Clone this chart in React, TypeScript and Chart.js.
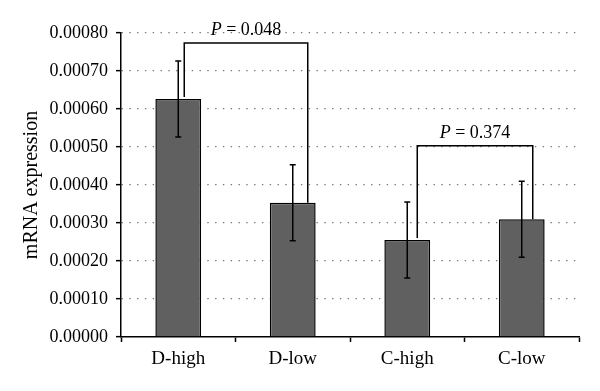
import React, { useEffect, useRef } from "react";
import { Chart, registerables } from "chart.js";

Chart.register(...registerables);

const categories = ["D-high", "D-low", "C-high", "C-low"];
const values = [0.000626, 0.000353, 0.000255, 0.00031];
const errors = [0.0001, 0.0001, 0.0001, 0.0001];
const yTicks = [0, 0.0001, 0.0002, 0.0003, 0.0004, 0.0005, 0.0006, 0.0007, 0.0008];
const bracketFrom = [0, 2];
const bracketTo = [1, 3];
const bracketLevel = [0.000774, 0.000503];
const bracketLabel = ["0.048", "0.374"];

const FONT = "'Liberation Serif', 'Times New Roman', serif";
const legOffsetLeft = [6, 10];
const legOffsetRight = [15, 11];

const overlayPlugin = {
  id: "overlay",
  afterDatasetsDraw(chart: any) {
    const ctx = chart.ctx;
    const meta = chart.getDatasetMeta(0);
    const y = chart.scales.y;
    ctx.save();
    ctx.strokeStyle = "#000";
    ctx.lineWidth = 1.5;
    ctx.setLineDash([]);
    // error bars
    values.forEach((v, i) => {
      const bx = meta.data[i].x;
      const yt = y.getPixelForValue(v + errors[i]);
      const yb = y.getPixelForValue(v - errors[i]);
      ctx.beginPath();
      ctx.moveTo(bx, yt);
      ctx.lineTo(bx, yb);
      ctx.moveTo(bx - 3, yt);
      ctx.lineTo(bx + 3, yt);
      ctx.moveTo(bx - 3, yb);
      ctx.lineTo(bx + 3, yb);
      ctx.stroke();
    });
    // brackets
    bracketFrom.forEach((f, k) => {
      const t = bracketTo[k];
      const x1 = meta.data[f].x + legOffsetLeft[k];
      const x2 = meta.data[t].x + legOffsetRight[k];
      const yl = y.getPixelForValue(bracketLevel[k]);
      const y1 = y.getPixelForValue(values[f]) - 2;
      const y2 = y.getPixelForValue(values[t]);
      ctx.beginPath();
      ctx.moveTo(x1, y1);
      ctx.lineTo(x1, yl);
      ctx.lineTo(x2, yl);
      ctx.lineTo(x2, y2);
      ctx.stroke();
      // label
      const cx = (x1 + x2) / 2;
      const baseY = yl - 8;
      ctx.fillStyle = "#000";
      ctx.textBaseline = "alphabetic";
      ctx.font = `italic 18px ${FONT}`;
      const pW = ctx.measureText("P").width;
      ctx.font = `18px ${FONT}`;
      const rest = " = " + bracketLabel[k];
      const rW = ctx.measureText(rest).width;
      const start = cx - (pW + rW) / 2;
      ctx.font = `italic 18px ${FONT}`;
      ctx.textAlign = "left";
      ctx.fillText("P", start, baseY);
      ctx.font = `18px ${FONT}`;
      ctx.fillText(rest, start + pW, baseY);
    });
    ctx.restore();
  },
};

export default function App() {
  const ref = useRef<HTMLCanvasElement>(null);
  useEffect(() => {
    document.body.style.margin = "0";
    const chart = new Chart(ref.current!, {
      type: "bar",
      data: {
        labels: categories,
        datasets: [
          {
            data: values,
            backgroundColor: "#606060",
            borderColor: "#000",
            borderWidth: 1.5,
            barPercentage: 0.4,
            categoryPercentage: 1,
          },
        ],
      },
      options: {
        animation: false,
        responsive: false,
        events: [],
        layout: { padding: { top: 33, right: 21, left: 0, bottom: 0 } },
        plugins: { legend: { display: false }, tooltip: { enabled: false } },
        scales: {
          x: {
            offset: true,
            afterFit: (s: any) => {
              s.height = 54;
            },
            grid: {
              offset: true,
              drawOnChartArea: false,
              drawTicks: true,
              tickLength: 5,
              tickColor: "#000",
              tickWidth: 1.5,
            },
            border: { display: true, color: "#000", width: 1.5 },
            ticks: { color: "#000", padding: 6, font: { family: FONT, size: 19 } },
          },
          y: {
            min: 0,
            max: 0.0008,
            afterFit: (s: any) => {
              s.width = 121;
            },
            afterBuildTicks: (s: any) => {
              s.ticks = yTicks.map((v) => ({ value: v }));
            },
            grid: {
              color: (c: any) => (c.tick && c.tick.value === 0 ? "rgba(0,0,0,0)" : "#777"),
              lineWidth: 1.3,
              tickColor: "#000",
              tickLength: 5,
              tickWidth: 1.5,
              tickBorderDash: [],
            },
            border: { display: true, color: "#000", width: 1.5, dash: [1.4, 6.4] },
            ticks: {
              color: "#000",
              padding: 8,
              font: { family: FONT, size: 18 },
              callback: (v: any) => Number(v).toFixed(5),
            },
            title: {
              display: true,
              text: "mRNA expression",
              color: "#000",
              font: { family: FONT, size: 20 },
              padding: { top: 20, bottom: 0 },
            },
          },
        },
      },
      plugins: [overlayPlugin],
    });
    return () => chart.destroy();
  }, []);
  return <canvas ref={ref} width={600} height={391} style={{ display: "block" }} />;
}
